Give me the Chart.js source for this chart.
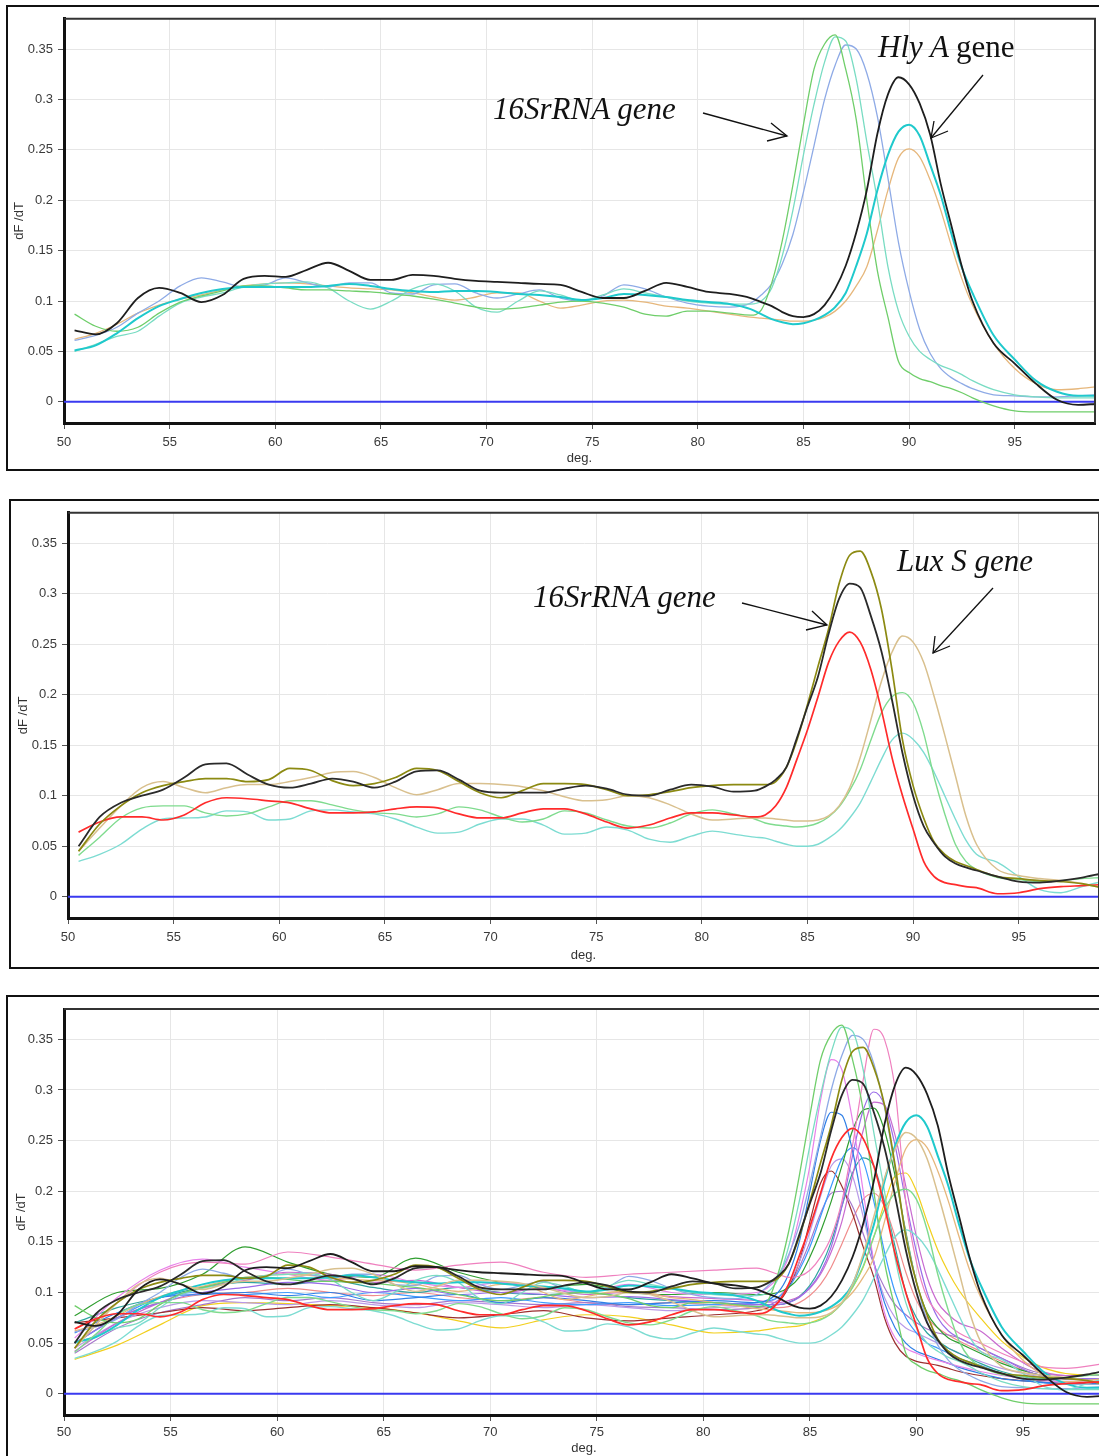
<!DOCTYPE html>
<html lang="en">
<head>
<meta charset="UTF-8" />
<title>Melt curves dF/dT</title>
<script src="https://cdn.jsdelivr.net/npm/chart.js"></script>
<style>
  html, body { margin: 0; padding: 0; background: #fff; }
  body { width: 1099px; height: 1456px; position: relative; overflow: hidden; font-family: 'Liberation Sans', Arial, sans-serif; }
  .frame { position: absolute; border: 2px solid #111; box-sizing: border-box; }
  canvas { position: absolute; }
  .note { position: absolute; font: italic 31px 'Liberation Serif', 'Times New Roman', serif; line-height: 1; color: #111; white-space: nowrap; }
  .note .up { font-style: normal; }
  #arrows { position: absolute; left: 0; top: 0; }
</style>
</head>
<body>
  <div class="frame" style="left:6px; top:5px; width:1100px; height:466px;"></div>
  <div class="frame" style="left:9px; top:499px; width:1100px; height:470px;"></div>
  <div class="frame" style="left:6px; top:995px; width:1100px; height:470px;"></div>

  <canvas id="c1" width="1092" height="464" style="left:7px; top:6px;"></canvas>
  <canvas id="c2" width="1092" height="467" style="left:10px; top:500px;"></canvas>
  <canvas id="c3" width="1100" height="460" style="left:7px; top:996px;"></canvas>

  <div class="note" style="left:493px; top:93px;">16SrRNA gene</div>
  <div class="note" style="left:878px; top:31px;">Hly A <span class="up">gene</span></div>
  <div class="note" style="left:533px; top:581px;">16SrRNA gene</div>
  <div class="note" style="left:897px; top:545px;">Lux S gene</div>

  <svg id="arrows" width="1099" height="1456" fill="none" stroke="#111" stroke-width="1.3">
    <line x1="703" y1="113" x2="787" y2="136"/>
    <polyline points="767,141 787,136 771,123"/>
    <line x1="983" y1="75" x2="931" y2="138"/>
    <polyline points="934,121 931,138 948,131"/>
    <line x1="742" y1="603" x2="827" y2="625"/>
    <polyline points="806,630 827,625 812,611"/>
    <line x1="993" y1="588" x2="933" y2="653"/>
    <polyline points="935,636 933,653 950,646"/>
  </svg>

<script>
// temperature grid (deg.) used by the curves of panels 1 and 2
const TEMP = [50.5, 51.5, 52.5, 53.5, 54.5, 55.5, 56.5, 57.5, 58.5, 59.5, 60.5,
  61.5, 62.5, 63.5, 64.5, 65.5, 66.5, 67.5, 68.5, 69.5, 70.5, 71.5,
  72.5, 73.5, 74.5, 75.5, 76.5, 77.5, 78.5, 79.5, 80.5, 81.5, 82.5,
  83, 83.5, 84, 84.5, 85, 85.5, 86, 86.5, 87, 87.5, 88, 88.5, 89, 89.5, 90, 90.5, 91, 91.5, 92, 92.5, 93,
  94, 95, 96, 97, 98, 98.9];

// coarser grid for the extra samples shown only in panel 3
const TEMP_C = [50.5, 52.5, 54.5, 56.5, 58.5, 60.5, 62.5, 64.5, 66.5, 68.5, 70.5, 72.5, 74.5, 76.5, 78.5, 80.5, 82.5,
  83.5, 84, 84.5, 85, 85.5, 86, 86.5, 87, 87.5, 88, 88.5, 89, 89.5, 90, 90.5, 91, 91.5, 92,
  93, 94, 95.5, 97, 98.9];

// panel 1 (16SrRNA + Hly A)
const hlyBlack = [0.071, 0.067, 0.078, 0.103, 0.113, 0.108, 0.099, 0.106, 0.122, 0.125, 0.124,
  0.131, 0.138, 0.130, 0.121, 0.121, 0.126, 0.125, 0.122, 0.120, 0.119, 0.118,
  0.117, 0.116, 0.109, 0.103, 0.103, 0.110, 0.118, 0.114, 0.109, 0.107, 0.103,
  0.099, 0.095, 0.089, 0.085, 0.084, 0.087, 0.096, 0.112, 0.135, 0.168, 0.210, 0.266, 0.305, 0.322, 0.315, 0.296, 0.265, 0.216, 0.175, 0.134, 0.100,
  0.058, 0.038, 0.018, 0.002, -0.003, -0.002];
const hlyCyan = [0.051, 0.056, 0.068, 0.083, 0.095, 0.102, 0.108, 0.112, 0.114, 0.114, 0.114,
  0.114, 0.115, 0.117, 0.115, 0.112, 0.110, 0.109, 0.110, 0.110, 0.109, 0.107,
  0.106, 0.104, 0.101, 0.103, 0.107, 0.106, 0.104, 0.101, 0.099, 0.097, 0.092,
  0.087, 0.082, 0.079, 0.077, 0.078, 0.081, 0.086, 0.094, 0.108, 0.135, 0.167, 0.210, 0.245, 0.268, 0.275, 0.264, 0.235, 0.205, 0.167, 0.133, 0.108,
  0.066, 0.042, 0.021, 0.010, 0.006, 0.006];
const hlyTan = [0.062, 0.068, 0.077, 0.088, 0.096, 0.102, 0.106, 0.111, 0.115, 0.117, 0.118,
  0.117, 0.115, 0.113, 0.112, 0.111, 0.108, 0.104, 0.101, 0.104, 0.108, 0.108,
  0.100, 0.093, 0.096, 0.100, 0.101, 0.099, 0.095, 0.093, 0.090, 0.087, 0.084,
  0.083, 0.082, 0.081, 0.080, 0.080, 0.081, 0.084, 0.090, 0.100, 0.115, 0.134, 0.170, 0.210, 0.242, 0.251, 0.243, 0.220, 0.190, 0.155, 0.122, 0.096,
  0.058, 0.033, 0.018, 0.012, 0.013, 0.015];
const s16Green = [0.087, 0.075, 0.070, 0.074, 0.088, 0.099, 0.105, 0.110, 0.115, 0.115, 0.113,
  0.111, 0.111, 0.110, 0.109, 0.107, 0.105, 0.102, 0.098, 0.094, 0.092, 0.093,
  0.096, 0.099, 0.100, 0.098, 0.094, 0.087, 0.085, 0.090, 0.090, 0.088, 0.086,
  0.091, 0.118, 0.160, 0.215, 0.275, 0.330, 0.355, 0.364, 0.330, 0.280, 0.200, 0.130, 0.084, 0.040, 0.029, 0.023, 0.020, 0.016, 0.013, 0.009, 0.004,
  -0.004, -0.009, -0.010, -0.010, -0.010, -0.010];
const s16Teal = [0.050, 0.057, 0.065, 0.070, 0.085, 0.098, 0.104, 0.108, 0.114, 0.117, 0.118,
  0.119, 0.113, 0.100, 0.092, 0.100, 0.112, 0.117, 0.110, 0.094, 0.089, 0.100,
  0.110, 0.106, 0.100, 0.106, 0.112, 0.108, 0.104, 0.100, 0.098, 0.097, 0.097,
  0.100, 0.113, 0.145, 0.190, 0.245, 0.295, 0.337, 0.362, 0.358, 0.320, 0.258, 0.200, 0.134, 0.090, 0.065, 0.050, 0.042, 0.036, 0.032, 0.027, 0.021,
  0.012, 0.007, 0.005, 0.004, 0.004, 0.004];
const s16Blue = [0.061, 0.066, 0.074, 0.088, 0.100, 0.115, 0.123, 0.119, 0.114, 0.116, 0.123,
  0.118, 0.114, 0.118, 0.118, 0.108, 0.107, 0.116, 0.117, 0.108, 0.103, 0.107,
  0.111, 0.103, 0.100, 0.105, 0.116, 0.112, 0.104, 0.098, 0.095, 0.094, 0.098,
  0.106, 0.117, 0.137, 0.166, 0.208, 0.254, 0.300, 0.334, 0.354, 0.350, 0.326, 0.283, 0.222, 0.158, 0.110, 0.072, 0.048, 0.033, 0.024, 0.018, 0.013,
  0.007, 0.006, 0.005, 0.005, 0.006, 0.007];

// panel 2 (16SrRNA + Lux S)
const luxBlack = [0.050, 0.079, 0.093, 0.100, 0.106, 0.118, 0.131, 0.132, 0.121, 0.111, 0.108,
  0.112, 0.117, 0.114, 0.108, 0.114, 0.124, 0.125, 0.116, 0.105, 0.103, 0.103,
  0.103, 0.107, 0.110, 0.107, 0.101, 0.100, 0.106, 0.111, 0.109, 0.104, 0.105,
  0.109, 0.116, 0.128, 0.157, 0.188, 0.218, 0.260, 0.295, 0.310, 0.306, 0.278, 0.243, 0.195, 0.142, 0.100, 0.070, 0.053, 0.040, 0.033, 0.029, 0.026,
  0.020, 0.015, 0.014, 0.016, 0.019, 0.023];
const luxOlive = [0.045, 0.072, 0.090, 0.103, 0.110, 0.114, 0.117, 0.117, 0.114, 0.116, 0.127,
  0.125, 0.115, 0.110, 0.112, 0.118, 0.127, 0.125, 0.114, 0.103, 0.098, 0.105,
  0.112, 0.112, 0.111, 0.106, 0.100, 0.101, 0.104, 0.108, 0.110, 0.111, 0.111,
  0.111, 0.114, 0.128, 0.155, 0.190, 0.228, 0.265, 0.310, 0.338, 0.342, 0.322, 0.285, 0.225, 0.155, 0.110, 0.078, 0.054, 0.042, 0.035, 0.031, 0.027,
  0.020, 0.018, 0.016, 0.015, 0.013, 0.009];
const luxRed = [0.064, 0.074, 0.079, 0.079, 0.076, 0.081, 0.093, 0.098, 0.097, 0.095, 0.093,
  0.087, 0.083, 0.083, 0.084, 0.087, 0.089, 0.088, 0.082, 0.078, 0.078, 0.083,
  0.087, 0.087, 0.082, 0.074, 0.068, 0.071, 0.078, 0.083, 0.083, 0.081, 0.079,
  0.081, 0.090, 0.108, 0.136, 0.165, 0.198, 0.232, 0.253, 0.262, 0.252, 0.225, 0.185, 0.138, 0.100, 0.067, 0.035, 0.020, 0.014, 0.012, 0.010, 0.009,
  0.003, 0.004, 0.008, 0.010, 0.011, 0.012];
const luxTan = [0.045, 0.068, 0.090, 0.108, 0.114, 0.108, 0.103, 0.108, 0.111, 0.111, 0.114,
  0.118, 0.123, 0.124, 0.118, 0.108, 0.101, 0.106, 0.112, 0.112, 0.111, 0.109,
  0.105, 0.099, 0.095, 0.096, 0.100, 0.098, 0.091, 0.082, 0.076, 0.077, 0.078,
  0.078, 0.077, 0.076, 0.075, 0.075, 0.076, 0.080, 0.090, 0.108, 0.138, 0.175, 0.213, 0.242, 0.258, 0.252, 0.232, 0.198, 0.160, 0.120, 0.080, 0.052,
  0.027, 0.021, 0.018, 0.016, 0.013, 0.009];
const luxGreen = [0.041, 0.059, 0.078, 0.088, 0.090, 0.090, 0.083, 0.080, 0.082, 0.089, 0.095,
  0.095, 0.091, 0.086, 0.083, 0.082, 0.079, 0.082, 0.089, 0.086, 0.079, 0.074,
  0.077, 0.085, 0.083, 0.076, 0.070, 0.068, 0.073, 0.082, 0.086, 0.082, 0.077,
  0.073, 0.071, 0.070, 0.069, 0.070, 0.073, 0.079, 0.089, 0.105, 0.126, 0.155, 0.182, 0.198, 0.202, 0.192, 0.162, 0.118, 0.082, 0.052, 0.035, 0.027,
  0.019, 0.017, 0.015, 0.016, 0.018, 0.019];
const luxTeal = [0.035, 0.042, 0.052, 0.067, 0.077, 0.078, 0.079, 0.085, 0.084, 0.076, 0.077,
  0.085, 0.086, 0.084, 0.082, 0.077, 0.069, 0.063, 0.064, 0.072, 0.077, 0.077,
  0.071, 0.062, 0.063, 0.069, 0.066, 0.057, 0.054, 0.060, 0.065, 0.062, 0.059,
  0.058, 0.055, 0.052, 0.050, 0.050, 0.052, 0.058, 0.066, 0.078, 0.093, 0.114, 0.136, 0.155, 0.162, 0.156, 0.143, 0.123, 0.100, 0.077, 0.056, 0.042,
  0.034, 0.020, 0.007, 0.004, 0.010, 0.015];

// panel 3: the other samples (on TEMP_C)
const xPink = [0.045, 0.090, 0.120, 0.130, 0.128, 0.140, 0.135, 0.128, 0.122, 0.127, 0.130, 0.120, 0.115, 0.118, 0.120, 0.122, 0.124,
  0.118, 0.115, 0.116, 0.122, 0.135, 0.155, 0.190, 0.245, 0.310, 0.360, 0.350, 0.300, 0.190, 0.130, 0.095, 0.080, 0.068, 0.060,
  0.050, 0.040, 0.028, 0.025, 0.030];
const xViolet = [0.055, 0.095, 0.122, 0.133, 0.125, 0.118, 0.112, 0.118, 0.110, 0.105, 0.110, 0.105, 0.100, 0.108, 0.100, 0.098, 0.100,
  0.115, 0.135, 0.175, 0.225, 0.290, 0.330, 0.320, 0.270, 0.200, 0.130, 0.080, 0.055, 0.045, 0.040, 0.036, 0.033, 0.030, 0.027,
  0.022, 0.018, 0.014, 0.012, 0.012];
const xRoyal = [0.060, 0.080, 0.095, 0.098, 0.100, 0.097, 0.100, 0.092, 0.095, 0.098, 0.090, 0.095, 0.092, 0.088, 0.090, 0.092, 0.090,
  0.100, 0.118, 0.150, 0.200, 0.250, 0.278, 0.275, 0.240, 0.185, 0.130, 0.090, 0.065, 0.050, 0.042, 0.038, 0.034, 0.030, 0.026,
  0.020, 0.015, 0.012, 0.010, 0.010];
const xPurple = [0.050, 0.075, 0.090, 0.100, 0.105, 0.110, 0.108, 0.100, 0.104, 0.098, 0.100, 0.098, 0.095, 0.096, 0.093, 0.090, 0.088,
  0.088, 0.090, 0.095, 0.105, 0.120, 0.145, 0.185, 0.235, 0.280, 0.298, 0.285, 0.245, 0.190, 0.140, 0.100, 0.075, 0.062, 0.055,
  0.045, 0.035, 0.020, 0.015, 0.015];
const xOrchid = [0.042, 0.070, 0.090, 0.105, 0.112, 0.120, 0.118, 0.110, 0.112, 0.105, 0.100, 0.104, 0.098, 0.100, 0.096, 0.094, 0.092,
  0.090, 0.092, 0.096, 0.104, 0.118, 0.140, 0.170, 0.215, 0.260, 0.288, 0.285, 0.255, 0.205, 0.155, 0.115, 0.090, 0.078, 0.070,
  0.062, 0.045, 0.025, 0.018, 0.018];
const xDkGreen = [0.077, 0.100, 0.104, 0.118, 0.145, 0.130, 0.118, 0.115, 0.134, 0.120, 0.110, 0.105, 0.108, 0.100, 0.098, 0.100, 0.098,
  0.100, 0.105, 0.115, 0.135, 0.160, 0.190, 0.225, 0.260, 0.280, 0.282, 0.260, 0.215, 0.160, 0.110, 0.080, 0.065, 0.055, 0.050,
  0.040, 0.030, 0.020, 0.015, 0.015];
const xSky = [0.050, 0.075, 0.095, 0.100, 0.098, 0.100, 0.095, 0.100, 0.096, 0.092, 0.095, 0.090, 0.088, 0.090, 0.087, 0.088, 0.090,
  0.095, 0.105, 0.122, 0.145, 0.175, 0.205, 0.232, 0.243, 0.230, 0.190, 0.140, 0.100, 0.075, 0.060, 0.050, 0.045, 0.040, 0.035,
  0.028, 0.020, 0.012, 0.010, 0.010];
const xSea = [0.070, 0.085, 0.095, 0.105, 0.110, 0.108, 0.112, 0.105, 0.100, 0.105, 0.100, 0.098, 0.100, 0.095, 0.092, 0.090, 0.088,
  0.088, 0.090, 0.096, 0.107, 0.125, 0.150, 0.185, 0.218, 0.233, 0.225, 0.190, 0.145, 0.100, 0.075, 0.060, 0.052, 0.045, 0.040,
  0.030, 0.022, 0.015, 0.012, 0.012];
const xLavender = [0.045, 0.070, 0.085, 0.092, 0.090, 0.088, 0.092, 0.088, 0.085, 0.090, 0.088, 0.085, 0.088, 0.085, 0.082, 0.085, 0.088,
  0.095, 0.108, 0.130, 0.160, 0.195, 0.225, 0.232, 0.215, 0.175, 0.130, 0.095, 0.075, 0.065, 0.060, 0.055, 0.050, 0.045, 0.040,
  0.032, 0.025, 0.018, 0.014, 0.014];
const xMaroon = [0.070, 0.075, 0.080, 0.085, 0.082, 0.085, 0.088, 0.085, 0.080, 0.075, 0.078, 0.082, 0.075, 0.072, 0.075, 0.078, 0.082,
  0.090, 0.105, 0.130, 0.170, 0.208, 0.220, 0.205, 0.178, 0.145, 0.115, 0.075, 0.050, 0.037, 0.032, 0.030, 0.028, 0.025, 0.022,
  0.018, 0.015, 0.012, 0.010, 0.010];
const xMauve = [0.040, 0.065, 0.080, 0.088, 0.095, 0.092, 0.095, 0.090, 0.088, 0.092, 0.090, 0.088, 0.090, 0.086, 0.085, 0.083, 0.085,
  0.092, 0.105, 0.125, 0.150, 0.178, 0.198, 0.200, 0.185, 0.158, 0.128, 0.105, 0.088, 0.078, 0.070, 0.064, 0.060, 0.058, 0.055,
  0.045, 0.035, 0.022, 0.018, 0.018];
const xGold = [0.034, 0.048, 0.068, 0.087, 0.090, 0.089, 0.087, 0.085, 0.080, 0.072, 0.065, 0.073, 0.078, 0.076, 0.068, 0.060, 0.062,
  0.065, 0.066, 0.067, 0.070, 0.074, 0.079, 0.090, 0.105, 0.125, 0.155, 0.188, 0.215, 0.218, 0.200, 0.170, 0.142, 0.120, 0.102,
  0.075, 0.052, 0.030, 0.020, 0.018];
const xSalmon = [0.050, 0.075, 0.090, 0.098, 0.100, 0.104, 0.100, 0.097, 0.100, 0.095, 0.092, 0.095, 0.090, 0.088, 0.090, 0.088, 0.086,
  0.085, 0.086, 0.090, 0.097, 0.108, 0.125, 0.148, 0.172, 0.192, 0.198, 0.185, 0.155, 0.120, 0.092, 0.075, 0.065, 0.058, 0.052,
  0.042, 0.032, 0.020, 0.015, 0.015];

// zero line
const ZERO_X = [50, 98.8];
const ZERO_Y = [0, 0];

const Y_TICKS_STEP = 0.05;
const X_TICKS_STEP = 5;

function series(temps, vals, color, width) {
  return {
    data: temps.map((t, i) => ({ x: t, y: vals[i] })),
    borderColor: color,
    borderWidth: width || 1.3,
    pointRadius: 0,
    fill: false
  };
}

function zeroLine() {
  const s = series(ZERO_X, ZERO_Y, '#3a3af0', 2);
  s.cubicInterpolationMode = 'default';
  s.tension = 0;
  return s;
}

const p1 = [
  series(TEMP, hlyBlack, '#1e1e1e', 1.8),
  series(TEMP, hlyCyan, '#1fc9cc', 2),
  series(TEMP, s16Green, '#6fce6a', 1.3),
  series(TEMP, s16Teal, '#79dcc3', 1.3),
  series(TEMP, s16Blue, '#8eaae6', 1.3),
  series(TEMP, hlyTan, '#e6b77c', 1.3)
];
const p2 = [
  series(TEMP, luxBlack, '#2a2a2a', 1.8),
  series(TEMP, luxOlive, '#8c8a12', 1.7),
  series(TEMP, luxRed, '#ff2b2b', 1.7),
  series(TEMP, luxTan, '#d9c08e', 1.5),
  series(TEMP, luxGreen, '#7fdb8e', 1.4),
  series(TEMP, luxTeal, '#7ddcd2', 1.4)
];
const p3extra = [
  series(TEMP_C, xPink, '#ef80bf', 1.2),
  series(TEMP_C, xViolet, '#e882ea', 1.2),
  series(TEMP_C, xRoyal, '#2f7fe6', 1.2),
  series(TEMP_C, xPurple, '#9a6ce8', 1.2),
  series(TEMP_C, xOrchid, '#c86ad0', 1.2),
  series(TEMP_C, xDkGreen, '#2f9e2f', 1.2),
  series(TEMP_C, xSky, '#3d9bff', 1.2),
  series(TEMP_C, xSea, '#2fa5a0', 1.2),
  series(TEMP_C, xLavender, '#b99ae8', 1.2),
  series(TEMP_C, xMaroon, '#9b2f2f', 1.2),
  series(TEMP_C, xMauve, '#a678cc', 1.2),
  series(TEMP_C, xGold, '#f2cf1d', 1.2),
  series(TEMP_C, xSalmon, '#f08c8c', 1.2)
];

// top and right edge of the plot box
const plotBox = {
  id: 'plotBox',
  afterDraw(chart) {
    const { ctx, chartArea: a } = chart;
    ctx.save();
    ctx.strokeStyle = '#333';
    ctx.lineWidth = 2;
    ctx.beginPath();
    ctx.moveTo(a.left, a.top);
    ctx.lineTo(a.right, a.top);
    ctx.lineTo(a.right, a.bottom);
    ctx.stroke();
    ctx.restore();
  }
};

const tickFont = { family: "'Liberation Sans', Arial, sans-serif", size: 13 };

function makeChart(id, datasets, cfg) {
  return new Chart(document.getElementById(id), {
    type: 'line',
    data: { datasets: datasets },
    options: {
      responsive: false,
      animation: false,
      events: [],
      layout: { padding: { top: cfg.top, right: cfg.right, left: 0, bottom: 0 } },
      plugins: { legend: { display: false }, tooltip: { enabled: false } },
      elements: { point: { radius: 0 }, line: { cubicInterpolationMode: 'monotone' } },
      scales: {
        x: {
          type: 'linear', min: 50, max: 98.8,
          afterFit: s => { s.height = cfg.xh; },
          ticks: { stepSize: X_TICKS_STEP, includeBounds: false, padding: cfg.xpad, color: '#3a3a3a', font: tickFont, maxRotation: 0 },
          grid: { color: '#e6e6e6', tickColor: '#555', tickLength: 6 },
          border: { color: '#111', width: 3 },
          title: { display: true, text: 'deg.', color: '#333', font: tickFont, padding: { top: 0, bottom: cfg.tpb } }
        },
        y: {
          min: -0.021, max: 0.38,
          afterFit: s => { s.width = cfg.yw; },
          ticks: {
            stepSize: Y_TICKS_STEP, includeBounds: false, padding: 5, color: '#3a3a3a', font: tickFont,
            callback: v => String(parseFloat(Number(v).toFixed(3)))
          },
          grid: { color: '#e6e6e6', tickColor: '#555', tickLength: 6 },
          border: { color: '#111', width: 3 },
          title: { display: true, text: 'dF /dT', color: '#333', font: tickFont, padding: { top: cfg.ypt, bottom: 0 } }
        }
      }
    },
    plugins: [plotBox]
  });
}

makeChart('c1', p1.concat([zeroLine()]), { top: 12, right: 4, xh: 47, yw: 57, xpad: 6, tpb: 4, ypt: 5 });
makeChart('c2', p2.concat([zeroLine()]), { top: 12, right: 3, xh: 49, yw: 58, xpad: 6, tpb: 4, ypt: 6 });
makeChart('c3', [p1[0], p2[2]].concat(p2.slice(0, 2), p2.slice(3), p1.slice(1), p3extra, [zeroLine()]),
  { top: 13, right: 3, xh: 41, yw: 57, xpad: 4, tpb: 0, ypt: 7 });
</script>
</body>
</html>
